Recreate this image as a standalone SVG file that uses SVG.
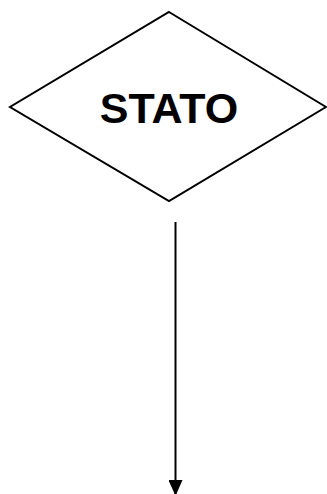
<svg xmlns="http://www.w3.org/2000/svg" width="327" height="494" viewBox="0 0 327 494">
<style>
.shape{fill:#fff;stroke:#000;stroke-width:2}
.lbl{font-family:"Liberation Sans",Arial,sans-serif;font-weight:bold;font-size:43px;fill:#000}
.conn{stroke:#000;stroke-width:2;fill:none}
</style>
<defs>
<marker id="arr" viewBox="0 0 16 14" refX="16" refY="7" markerWidth="16" markerHeight="14" markerUnits="userSpaceOnUse" orient="auto">
<path d="M0,0 L16,7 L0,14 Z" fill="#000"/>
</marker>
</defs>
<rect width="327" height="494" fill="#fff"/>
<g id="node-stato">
<polygon class="shape" points="169,12 326,107 169,201 10,107"/>
<text class="lbl" x="169" y="122.5" text-anchor="middle">STATO</text>
</g>
<g id="connectors">
<line class="conn" x1="175.5" y1="222" x2="175.5" y2="496" marker-end="url(#arr)"/>
</g>
</svg>
